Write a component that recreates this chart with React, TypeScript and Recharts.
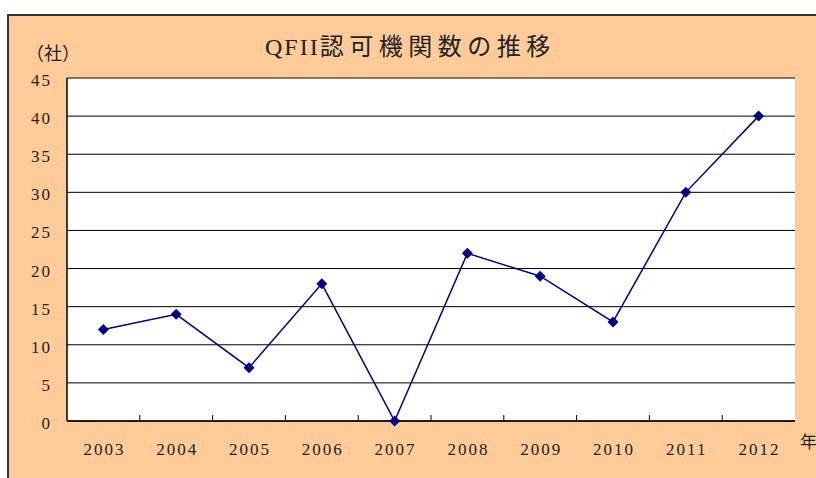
import { LineChart, Line, XAxis, YAxis, CartesianGrid } from 'recharts'

const years = ['2003', '2004', '2005', '2006', '2007', '2008', '2009', '2010', '2011', '2012']
const approvedCounts = [12, 14, 7, 18, 0, 22, 19, 13, 30, 40]
const yTicks = [0, 5, 10, 15, 20, 25, 30, 35, 40, 45]

const data = years.map((year, i) => ({ year, count: approvedCounts[i] }))

const serif = '"Liberation Serif", "DejaVu Serif", "Noto Sans CJK JP", serif'
const cjk = '"Noto Sans CJK JP", serif'

const Diamond = (props: any) => {
  const { cx, cy } = props
  if (cx == null || cy == null) return null
  const r = 5.5
  return (
    <path
      d={`M${cx},${cy - r}L${cx + r},${cy}L${cx},${cy + r}L${cx - r},${cy}Z`}
      fill="#000080"
    />
  )
}

// year label plus the small inward tick between categories
const YearTick = (props: any) => {
  const { x, y, payload, index, width, visibleTicksCount } = props
  const bw = width / visibleTicksCount
  return (
    <g>
      {index < visibleTicksCount - 1 && (
        <line x1={x + bw / 2} x2={x + bw / 2} y1={y} y2={y - 6} stroke="#000" />
      )}
      <text
        x={x + 1}
        y={y + 34}
        textAnchor="middle"
        fontSize={17}
        letterSpacing={2}
        fontFamily={serif}
        fill="#222"
      >
        {payload.value}
      </text>
    </g>
  )
}

export default function App() {
  return (
    <div
      style={{
        position: 'absolute',
        left: 0,
        top: 0,
        width: 816,
        height: 478,
        overflow: 'hidden',
        background: '#fff',
      }}
    >
      <div
        style={{
          position: 'absolute',
          left: 7,
          top: 14,
          width: 830,
          height: 480,
          background: '#FFCC99',
          border: '2px solid #333',
        }}
      />
      <div
        style={{
          position: 'absolute',
          left: 265,
          top: 30,
          whiteSpace: 'nowrap',
          fontSize: 24,
          color: '#222',
          lineHeight: '30px',
        }}
      >
        <span style={{ fontFamily: serif, letterSpacing: 2 }}>QFII</span>
        <span style={{ fontFamily: cjk, letterSpacing: 5.5 }}>認可機関数の推移</span>
      </div>
      <div
        style={{
          position: 'absolute',
          left: 26,
          top: 39,
          fontFamily: cjk,
          fontSize: 18,
          color: '#222',
          lineHeight: '26px',
        }}
      >
        （社）
      </div>
      <div
        style={{
          position: 'absolute',
          left: 800,
          top: 429,
          fontFamily: cjk,
          fontSize: 17,
          color: '#222',
          lineHeight: '24px',
        }}
      >
        年
      </div>
      <div style={{ position: 'absolute', left: 0, top: 0 }}>
        <LineChart
          width={816}
          height={478}
          data={data}
          margin={{ top: 78, right: 21, bottom: 0, left: 0 }}
        >
          <CartesianGrid vertical={false} stroke="#000" fill="#fff" fillOpacity={1} />
          <XAxis
            dataKey="year"
            scale="band"
            height={57}
            tickLine={false}
            tickSize={0}
            tickMargin={0}
            axisLine={{ stroke: '#000', strokeWidth: 1.5 }}
            tick={<YearTick />}
            interval={0}
          />
          <XAxis
            xAxisId="top"
            dataKey="year"
            orientation="top"
            height={0}
            tick={false}
            tickLine={false}
            axisLine={{ stroke: '#888', strokeWidth: 1.5 }}
          />
          <YAxis
            width={67}
            domain={[0, 45]}
            ticks={yTicks}
            interval={0}
            tickLine={false}
            tickSize={0}
            tickMargin={15}
            axisLine={{ stroke: '#000', strokeWidth: 1.5 }}
            tick={{ fill: '#222', fontSize: 17, fontFamily: serif, letterSpacing: 2, dy: 2 }}
          />
          <YAxis
            yAxisId="right"
            orientation="right"
            width={0}
            domain={[0, 45]}
            tick={false}
            tickLine={false}
            axisLine={{ stroke: '#888', strokeWidth: 1.5 }}
          />
          <Line
            dataKey="count"
            stroke="#000080"
            strokeWidth={1.5}
            dot={<Diamond />}
            activeDot={false}
            isAnimationActive={false}
          />
        </LineChart>
      </div>
    </div>
  )
}
